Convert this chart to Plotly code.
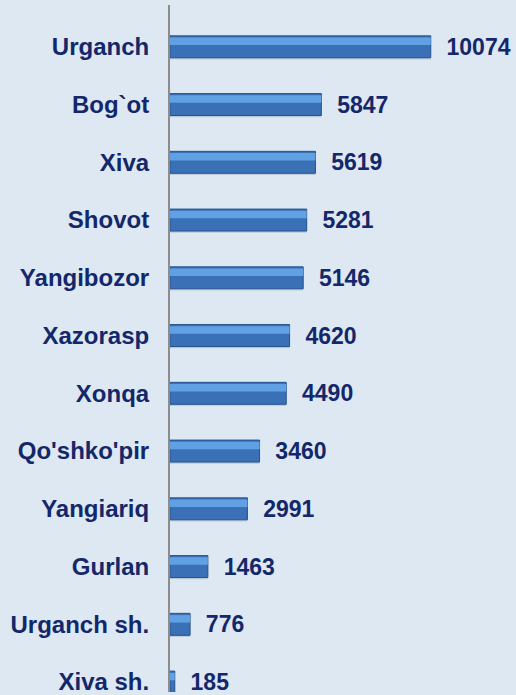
import plotly.graph_objects as go

categories = ["Urganch", "Bog`ot", "Xiva", "Shovot", "Yangibozor", "Xazorasp",
              "Xonqa", "Qo'shko'pir", "Yangiariq", "Gurlan", "Urganch sh.", "Xiva sh."]
values = [10074, 5847, 5619, 5281, 5146, 4620, 4490, 3460, 2991, 1463, 776, 185]
value_labels = [str(v) for v in values]

navy = "#13276a"
font_family = "Liberation Sans, Arial, sans-serif"

fig = go.Figure()
# shadow
fig.add_trace(go.Bar(
    y=categories, x=values, orientation="h", width=0.36, offset=-0.14,
    marker=dict(color="rgba(90,100,120,0.22)", line=dict(width=0)),
    hoverinfo="skip", showlegend=False))
# main bar
fig.add_trace(go.Bar(
    y=categories, x=values, orientation="h", width=0.38, offset=-0.19,
    marker=dict(color="#3a70b6", line=dict(color="#26528e", width=1)),
    text=value_labels, texttemplate="  %{text}", textposition="outside",
    textfont=dict(family=font_family, size=23, color=navy, weight="bold"),
    constraintext="none", cliponaxis=False, showlegend=False))
# highlight
fig.add_trace(go.Bar(
    y=categories, x=values, orientation="h", width=0.13, offset=-0.16,
    marker=dict(color="#62a0e4", line=dict(width=0)),
    hoverinfo="skip", showlegend=False))

fig.update_layout(
    width=516, height=695,
    margin=dict(l=170, r=0, t=5, b=0),
    barmode="overlay",
    paper_bgcolor="#dde8f2", plot_bgcolor="#dde8f2",
    font=dict(family=font_family, color=navy),
    xaxis=dict(range=[0, 13367], visible=False, showgrid=False, zeroline=False),
    yaxis=dict(range=[11.172, -0.724], showgrid=False, zeroline=False,
               showline=True, linecolor="#8c8c8c", linewidth=2,
               ticks="", ticklabelstandoff=14,
               tickfont=dict(family=font_family, size=24, color=navy, weight="bold")),
)
fig.write_html("out.html", config={"displayModeBar": False},
               post_script="document.body.style.margin='0';document.body.style.overflow='hidden';")
